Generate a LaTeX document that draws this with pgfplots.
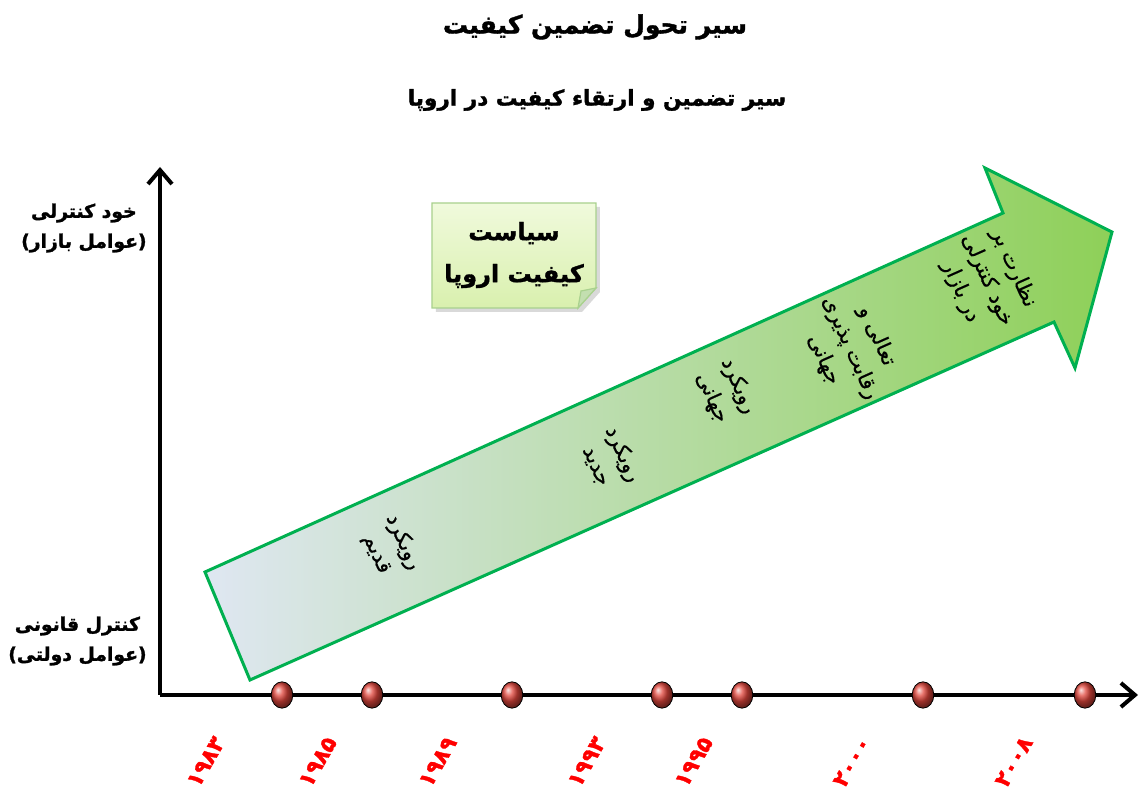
\documentclass[border=0pt]{standalone}
\usepackage{fontspec}
\usepackage{pgfplots}
\pgfplotsset{compat=1.18}
\usetikzlibrary{arrows.meta}
\TeXXeTstate=1
\newfontfamily\fa[Script=Arabic, FakeBold=0.6]{DejaVu Sans}
\newfontfamily\fab[Script=Arabic, BoldFeatures={FakeBold=1.5}]{DejaVu Sans}
\newcommand\R[1]{\beginR #1\endR}

\definecolor{arrowgreen}{HTML}{00B050}
\definecolor{shaftleft}{HTML}{DFE7F2}
\definecolor{shaftmid}{HTML}{C9E2C6}
\definecolor{shaftright}{HTML}{8ED058}
\definecolor{notetop}{HTML}{F0FADC}
\definecolor{notebot}{HTML}{D9F0AE}
\definecolor{noteedge}{HTML}{A9D18E}
\definecolor{dotred}{HTML}{E0463C}

\begin{document}
\begin{tikzpicture}
\begin{axis}[
    x=0.5pt, y=0.5pt,
    xmin=0, xmax=978, ymin=0, ymax=528,
    axis lines=left,
    axis line style={line width=2pt, -{Straight Barb[length=7pt,width=12pt]}},
    xtick=\empty, ytick=\empty,
    clip=false,
]
% page frame, in pixel units of the reference
\coordinate (BL) at (axis cs:-160,-97);
\coordinate (TR) at (axis cs:982,695);

% big arrow
\addplot[draw=arrowgreen, line width=1.5pt, line join=miter,
    left color=shaftleft, middle color=shaftmid, right color=shaftright]
    coordinates {(45,123) (90,15) (894,373) (915,327) (952,463) (825,527) (843,482)} -- cycle;

% sticky note
\addplot[draw=none, fill=black!15]
    coordinates {(276,488) (440,488) (440,403) (422,383) (276,383)} -- cycle;
\addplot[draw=noteedge, line width=0.6pt, top color=notetop, bottom color=notebot]
    coordinates {(272,492) (436,492) (436,407) (418,387) (272,387)} -- cycle;
\addplot[draw=noteedge, line width=0.6pt, fill=noteedge!70]
    coordinates {(436,407) (418,387) (421,404)} -- cycle;

% time points
\addplot[only marks, mark=ball, mark size=6pt,
    mark options={ball color=dotred, xscale=0.9, yscale=1.1}]
    coordinates {(122,0) (212,0) (352,0) (502,0) (582,0) (763,0) (925,0)};

% titles
\node[font=\fab\bfseries\fontsize{12.5}{15}\selectfont] at (axis cs:435,668) {\R{سیر تحول تضمین کیفیت}};
\node[font=\fab\bfseries\fontsize{10.8}{13}\selectfont] at (axis cs:437,595) {\R{سیر تضمین و ارتقاء کیفیت در اروپا}};

% y labels
\node[font=\fab\bfseries\fontsize{9.4}{15}\selectfont, align=center, anchor=east, inner sep=0pt]
    at (axis cs:-13,467) {\R{خود کنترلی}\\\R{(عوامل بازار)}};
\node[font=\fab\bfseries\fontsize{9.4}{15}\selectfont, align=center, anchor=east, inner sep=0pt]
    at (axis cs:-13,54) {\R{کنترل قانونی}\\\R{(عوامل دولتی)}};

% note text
\node[font=\fab\bfseries\fontsize{12}{21}\selectfont, align=center]
    at (axis cs:354,440) {\R{سیاست}\\\R{کیفیت اروپا}};

% arrow texts
\begin{scope}[every node/.style={font=\fa\fontsize{10.5}{14.5}\selectfont, align=center, rotate=-66}]
\node at (axis cs:230,147) {\R{رویکرد}\\\R{قدیم}};
\node at (axis cs:450,235) {\R{رویکرد}\\\R{جدید}};
\node at (axis cs:565,303) {\R{رویکرد}\\\R{جهانی}};
\node at (axis cs:690,347) {\R{تعالی و}\\\R{رقابت پذیری}\\\R{جهانی}};
\node at (axis cs:827,415) {\R{نظارت بر}\\\R{خود کنترلی}\\\R{در بازار}};
\end{scope}

% years
\begin{scope}[every node/.style={font=\fab\bfseries\fontsize{11}{13}\selectfont, text=red, rotate=60}]
\node at (axis cs:46,-67) {۱۹۸۳};
\node at (axis cs:158,-67) {۱۹۸۵};
\node at (axis cs:278,-67) {۱۹۸۹};
\node at (axis cs:427,-67) {۱۹۹۳};
\node at (axis cs:534,-67) {۱۹۹۵};
\node at (axis cs:692,-67) {۲۰۰۰};
\node at (axis cs:854,-67) {۲۰۰۸};
\end{scope}
\end{axis}
\pgfresetboundingbox
\path (BL) rectangle (TR);
\end{tikzpicture}
\end{document}
